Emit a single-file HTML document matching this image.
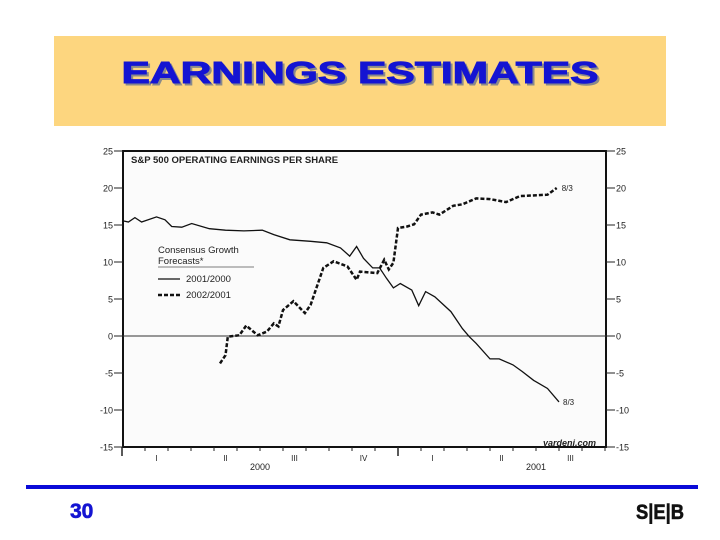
<!DOCTYPE html>
<html><head><meta charset="utf-8"><style>
html,body{margin:0;padding:0;background:#fff;width:720px;height:540px;overflow:hidden}
svg{display:block}
text{font-family:"Liberation Sans",sans-serif}
</style></head><body>
<svg id="s" width="720" height="540" viewBox="0 0 720 540">
<rect x="54" y="36" width="612" height="90" fill="#fdd67f"/>
<text x="362" y="85" text-anchor="middle" font-size="31" font-weight="bold" fill="#8a8a8a" stroke="#8a8a8a" stroke-width="1" textLength="477" lengthAdjust="spacingAndGlyphs">EARNINGS ESTIMATES</text>
<text x="360" y="83" text-anchor="middle" font-size="31" font-weight="bold" fill="#1414d2" stroke="#1414d2" stroke-width="1" textLength="477" lengthAdjust="spacingAndGlyphs">EARNINGS ESTIMATES</text>
<rect x="26" y="485" width="672" height="4" fill="#0a0ad8"/>
<text x="70" y="518" font-size="21" font-weight="bold" fill="#1414d2" stroke="#1414d2" stroke-width="0.6">30</text>
<text x="636" y="519" font-size="21" font-weight="bold" fill="#111" stroke="#111" stroke-width="0.6" textLength="48" lengthAdjust="spacingAndGlyphs">S|E|B</text>
<g id="chart"></g>
</svg>
<script>
const yTicks=[25,20,15,10,5,0,-5,-10,-15];
const quarterLabels=["I","II","III","IV","I","II","III"];
const yearLabels=["2000","2001"];
const solidMonths=[0,0.28,0.56,0.85,1.5,1.87,2.16,2.6,3.03,3.8,4.5,5.3,6.1,6.6,7.3,8.2,8.9,9.5,9.9,10.2,10.5,10.9,11.2,11.5,11.8,12.1,12.6,12.9,13.2,13.6,14.3,14.8,15.1,15.4,16.0,16.4,17.0,17.4,17.9,18.5,19.0];
const solidValues=[15.6,15.4,16.0,15.4,16.1,15.7,14.8,14.7,15.2,14.5,14.3,14.2,14.3,13.7,13.0,12.8,12.6,11.9,10.8,12.1,10.5,9.2,9.2,7.8,6.5,7.1,6.2,4.1,6.0,5.3,3.3,1.0,-0.1,-1.0,-3.1,-3.1,-3.9,-4.8,-6.0,-7.1,-8.9];
const dashMonths=[4.26,4.5,4.6,5.1,5.4,5.9,6.3,6.6,6.8,7.0,7.45,7.95,8.2,8.75,9.2,9.8,10.2,10.35,11.1,11.4,11.6,11.8,12.0,12.4,12.7,13.0,13.5,13.8,14.4,14.8,15.4,16.0,16.7,17.3,18.5,18.9];
const dashValues=[-3.7,-2.6,-0.1,0.1,1.4,0.1,0.6,1.7,1.3,3.5,4.7,3.1,4.2,9.2,10.1,9.4,7.6,8.7,8.5,10.3,9.0,9.9,14.6,14.8,15.1,16.4,16.7,16.4,17.6,17.8,18.6,18.5,18.1,18.9,19.1,20.0];

const NS="http://www.w3.org/2000/svg";
const g=document.getElementById('chart');
const L=123,R=606,T=151,B=447;
const y=v=>T+(25-v)*(B-T)/40;
const x=m=>122+23*m;
function mk(t,a,txt){const e=document.createElementNS(NS,t);for(const k in a)e.setAttribute(k,a[k]);if(txt!==undefined)e.textContent=txt;g.appendChild(e);return e;}
let e=mk('rect',{x:L,y:T,width:R-L,height:B-T,fill:'#fbfbfb',stroke:'#111','stroke-width':2});


e=mk('line',{x1:L,x2:R,y1:y(0),y2:y(0),stroke:'#333','stroke-width':1});


yTicks.forEach(v=>{
  e=mk('line',{x1:L-9,x2:L,y1:y(v),y2:y(v),stroke:'#222','stroke-width':1});
  
  
  e=mk('line',{x1:R,x2:R+9,y1:y(v),y2:y(v),stroke:'#222','stroke-width':1});
  
  
  e=mk('text',{x:L-10,y:y(v)+3.5,'font-size':9,'text-anchor':'end',fill:'#222'},String(v));
  
  
  e=mk('text',{x:R+10,y:y(v)+3.5,'font-size':9,fill:'#222'},String(v));
  
  
});
for(let m=0;m<=21;m++){
  const big=(m%12===0);
  e=mk('line',{x1:x(m),x2:x(m),y1:B,y2:B+(big?9:4),stroke:'#222','stroke-width':big?1.5:1});
  
  
}
quarterLabels.forEach((q,i)=>{
  e=mk('text',{x:x(i*3+1.5),y:B+14,'font-size':8,'text-anchor':'middle',fill:'#222'},q);
  
  
});
yearLabels.forEach((yr,i)=>{
  e=mk('text',{x:x(i*12+6),y:B+23,'font-size':9,'text-anchor':'middle',fill:'#222'},yr);
  
  
});
e=mk('text',{x:131,y:163,'font-size':9.5,'font-weight':'bold',fill:'#222'},'S&P 500 OPERATING EARNINGS PER SHARE');


e=mk('text',{x:543,y:446,'font-size':9,'font-style':'italic','font-weight':'bold','font-family':'Liberation Serif',fill:'#222'},'yardeni.com');


const pts=(ms,vs)=>ms.map((m,i)=>x(m).toFixed(1)+','+y(vs[i]).toFixed(1)).join(' ');
e=mk('polyline',{points:pts(solidMonths,solidValues),fill:'none',stroke:'#111','stroke-width':1.3});


e=mk('polyline',{points:pts(dashMonths,dashValues),fill:'none',stroke:'#111','stroke-width':2.5,'stroke-dasharray':'4,2'});


e=mk('text',{x:x(solidMonths[solidMonths.length-1])+4,y:y(solidValues[solidValues.length-1])+3,'font-size':8,fill:'#222'},'8/3');


e=mk('text',{x:x(dashMonths[dashMonths.length-1])+5,y:y(dashValues[dashValues.length-1])+3,'font-size':8,fill:'#222'},'8/3');


e=mk('text',{x:158,y:253,'font-size':9.5,fill:'#222'},'Consensus Growth');


e=mk('text',{x:158,y:264,'font-size':9.5,fill:'#222'},'Forecasts*');


e=mk('line',{x1:158,x2:254,y1:267,y2:267,stroke:'#555','stroke-width':0.8});


e=mk('line',{x1:158,x2:180,y1:279,y2:279,stroke:'#111','stroke-width':1.3});


e=mk('text',{x:186,y:282,'font-size':9.5,fill:'#222'},'2001/2000');


e=mk('line',{x1:158,x2:180,y1:295,y2:295,stroke:'#111','stroke-width':2.5,'stroke-dasharray':'4,2'});


e=mk('text',{x:186,y:298,'font-size':9.5,fill:'#222'},'2002/2001');


</script>
</body></html>
